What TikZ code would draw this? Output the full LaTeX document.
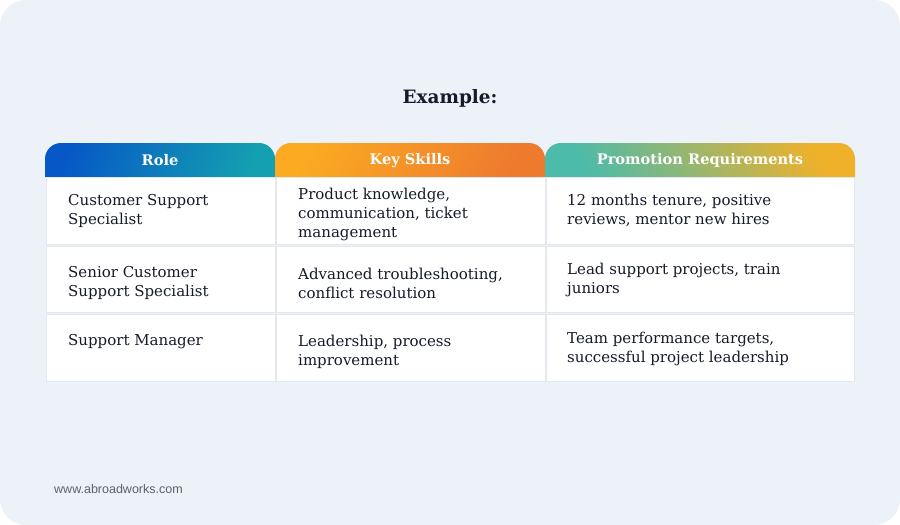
\documentclass[tikz,border=0pt]{standalone}
\usepackage{fontspec}
\setmainfont{DejaVu Serif}
\newfontfamily\webfont{Liberation Sans}

\definecolor{fondo}{HTML}{EDF1F8}
\definecolor{tinta}{HTML}{161B2B}
\definecolor{linea}{HTML}{E3E7EE}
\definecolor{gris}{HTML}{5A6170}
\definecolor{azulA}{HTML}{0658C6}
\definecolor{azulB}{HTML}{14A0B0}
\definecolor{naranjaA}{HTML}{FBAA22}
\definecolor{naranjaB}{HTML}{EE7A2E}
\definecolor{verdeA}{HTML}{4CBBAA}
\definecolor{verdeB}{HTML}{EFB12A}

\begin{document}
\begin{tikzpicture}[x=1pt,y=-1pt,
    celda/.style={fill=white,draw=linea,line width=1pt},
    cabecera/.style={text=white,font=\bfseries\fontsize{14.6}{16}\selectfont},
    texto/.style={anchor=west,align=left,inner sep=0pt,text=tinta,
        font=\fontsize{15}{19}\selectfont}]
    % Fondo
    \fill[white] (0,0) rectangle (900,525);
    \fill[fondo,rounded corners=26pt] (0,0) rectangle (900,525);

    % Titulo
    \node[text=tinta,font=\bfseries\fontsize{18.4}{21}\selectfont] (titulo) at (450,98) {Example:};

    % Cabeceras
    \shade[left color=azulA,right color=azulB,shading angle=70]
        (45,177) [rounded corners=16pt] -- (45,143) -- (275,143) [sharp corners] -- (275,177) -- cycle;
    \shade[left color=naranjaA,right color=naranjaB,shading angle=60]
        (275,177) [rounded corners=16pt] -- (275,143) -- (545,143) [sharp corners] -- (545,177) -- cycle;
    \shade[left color=verdeA,right color=verdeB,shading angle=120]
        (545,177) [rounded corners=16pt] -- (545,143) -- (855,143) [sharp corners] -- (855,177) -- cycle;
    \node[cabecera] (rol) at (160,160.5) {Role};
    \node[cabecera] (habilidades) at (410,160.5) {Key Skills};
    \node[cabecera] (requisitos) at (700,160.5) {Promotion Requirements};

    % Celdas
    \foreach \xa/\xb in {46/275, 276/545, 546/854}
        \foreach \ya/\yb in {177/244, 246/312, 314/381}
            \draw[celda] (\xa,\ya) rectangle (\xb,\yb);

    % Fila 1
    \node[texto] (rolA) at (68,210.5) {Customer Support\\Specialist};
    \node[texto] (habA) at (298,214) {Product knowledge,\\communication, ticket\\management};
    \node[texto] (reqA) at (567,210.5) {12 months tenure, positive\\reviews, mentor new hires};

    % Fila 2
    \node[texto] (rolB) at (68,283) {Senior Customer\\Support Specialist};
    \node[texto] (habB) at (298,283) {Advanced troubleshooting,\\conflict resolution};
    \node[texto] (reqB) at (567,280) {Lead support projects, train\\juniors};

    % Fila 3
    \node[texto] (rolC) at (68,341.5) {Support Manager};
    \node[texto] (habC) at (298,351.5) {Leadership, process\\improvement};
    \node[texto] (reqC) at (567,348.5) {Team performance targets,\\successful project leadership};

    % Pie
    \node[anchor=west,inner sep=0pt,text=gris,font=\webfont\fontsize{12.5}{14}\selectfont] (web) at (54,489) {www.abroadworks.com};
\end{tikzpicture}
\end{document}
